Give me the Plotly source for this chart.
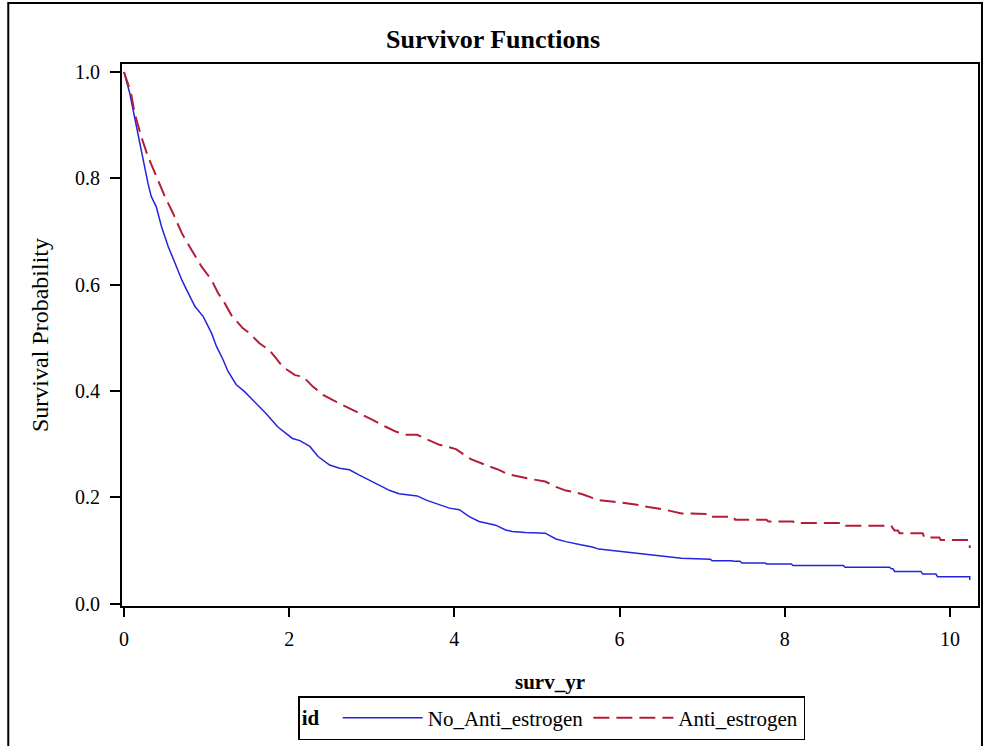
import plotly.graph_objects as go

# ---- data (Kaplan-Meier style survivor functions) ----
no_anti_t = [0, 0.07, 0.11, 0.15, 0.19, 0.25, 0.29, 0.33, 0.39, 0.455, 0.535, 0.62, 0.70, 0.76,
             0.86, 0.96, 1.06, 1.12, 1.20, 1.26, 1.36, 1.46, 1.58, 1.72, 1.86, 2.04, 2.13, 2.25,
             2.35, 2.49, 2.61, 2.73, 2.85, 2.95, 3.10, 3.22, 3.33, 3.55, 3.66, 3.82, 3.94, 4.06,
             4.18, 4.30, 4.50, 4.62, 4.70, 4.86, 5.10, 5.23, 5.35, 5.53, 5.67, 5.75, 5.93, 6.11,
             6.31, 6.51, 6.75, 7.10, 7.12, 7.36, 7.38, 7.46, 7.48, 7.76, 7.78, 8.08, 8.10, 8.71,
             8.73, 9.27, 9.29, 9.31, 9.33, 9.65, 9.67, 9.83, 9.85, 10.24, 10.24]
no_anti_s = [1.0, 0.96, 0.929, 0.897, 0.866, 0.816, 0.791, 0.766, 0.747, 0.709, 0.672, 0.640, 0.609,
             0.590, 0.559, 0.540, 0.509, 0.484, 0.459, 0.437, 0.412, 0.399, 0.380, 0.358, 0.333,
             0.311, 0.307, 0.296, 0.277, 0.261, 0.255, 0.252, 0.242, 0.234, 0.222, 0.213, 0.207,
             0.203, 0.195, 0.186, 0.180, 0.177, 0.164, 0.155, 0.148, 0.139, 0.136, 0.134, 0.133,
             0.122, 0.117, 0.111, 0.107, 0.103, 0.100, 0.097, 0.094, 0.090, 0.086, 0.084, 0.081,
             0.081, 0.080, 0.080, 0.077, 0.077, 0.075, 0.075, 0.072, 0.072, 0.069, 0.069, 0.066,
             0.066, 0.061, 0.061, 0.056, 0.056, 0.051, 0.051, 0.045]

anti_t = [0, 0.085, 0.13, 0.21, 0.29, 0.39, 0.495, 0.595, 0.70, 0.82, 0.94, 1.06, 1.14, 1.20, 1.30,
          1.44, 1.52, 1.64, 1.76, 1.84, 1.92, 2.07, 2.17, 2.29, 2.41, 2.53, 2.69, 2.85, 3.01, 3.17,
          3.29, 3.41, 3.55, 3.66, 3.82, 4.02, 4.14, 4.20, 4.38, 4.54, 4.64, 4.78, 4.88, 5.10, 5.23,
          5.35, 5.43, 5.55, 5.67, 5.75, 5.93, 6.19, 6.35, 6.55, 6.75, 7.00, 7.10, 7.12, 7.38, 7.40,
          7.78, 7.80, 8.10, 8.12, 8.72, 8.74, 9.29, 9.31, 9.33, 9.37, 9.39, 9.67, 9.69, 9.87, 9.89,
          10.24, 10.24]
anti_s = [1.0, 0.96, 0.922, 0.878, 0.841, 0.803, 0.766, 0.734, 0.697, 0.665, 0.634, 0.609, 0.584,
          0.571, 0.543, 0.518, 0.509, 0.490, 0.477, 0.462, 0.446, 0.430, 0.427, 0.408, 0.393, 0.383,
          0.371, 0.358, 0.346, 0.333, 0.324, 0.318, 0.318, 0.310, 0.299, 0.291, 0.278, 0.272, 0.261,
          0.252, 0.244, 0.239, 0.236, 0.230, 0.220, 0.213, 0.211, 0.206, 0.200, 0.195, 0.192, 0.187,
          0.182, 0.177, 0.170, 0.169, 0.169, 0.164, 0.164, 0.158, 0.158, 0.155, 0.155, 0.152, 0.152,
          0.147, 0.147, 0.142, 0.138, 0.138, 0.133, 0.133, 0.125, 0.125, 0.120, 0.120, 0.105]

x_ticks = [0, 2, 4, 6, 8, 10]
y_ticks = [0.0, 0.2, 0.4, 0.6, 0.8, 1.0]
y_tick_labels = ["0.0", "0.2", "0.4", "0.6", "0.8", "1.0"]

FONT = "Liberation Serif, Times New Roman, serif"

fig = go.Figure()
fig.add_trace(go.Scatter(x=no_anti_t, y=no_anti_s, mode="lines", name="No_Anti_estrogen",
                         line=dict(color="#2424DC", width=1.5)))
fig.add_trace(go.Scatter(x=anti_t, y=anti_s, mode="lines", name="Anti_estrogen",
                         line=dict(color="#B21E38", width=2, dash="16px,7px")))

W, H = 986, 746
L, R, T, B = 122, 6, 64, 140
pw, ph = W - L - R, H - T - B

def px_x(p):
    return (p - L) / pw

def px_y(p):
    return (H - B - p) / ph

fig.update_layout(
    width=W, height=H,
    margin=dict(l=L, r=R, t=T, b=B, pad=0),
    paper_bgcolor="white", plot_bgcolor="white",
    font=dict(family=FONT, size=21, color="black"),
    title=dict(text="<b>Survivor Functions</b>", x=0.5, xanchor="center", y=1 - 39 / H,
               yanchor="middle", font=dict(family=FONT, size=26, color="black")),
    xaxis=dict(range=[-0.024, 10.34], tickvals=x_ticks, ticks="outside", ticklen=9, tickwidth=2,
               tickcolor="black", showline=True, linecolor="black", linewidth=2, mirror=True,
               showgrid=False, zeroline=False, ticklabelstandoff=5,
               tickfont=dict(family=FONT, size=20),
               title=dict(text="<b>surv_yr</b>", font=dict(family=FONT, size=21), standoff=25)),
    yaxis=dict(range=[-0.004, 1.015], tickvals=y_ticks, ticktext=y_tick_labels, ticks="outside",
               ticklen=10, tickwidth=2, tickcolor="black", showline=True, linecolor="black",
               linewidth=2, mirror=True, showgrid=False, zeroline=False, ticklabelstandoff=6,
               tickfont=dict(family=FONT, size=20),
               title=dict(text="Survival Probability", font=dict(family=FONT, size=24), standoff=20)),
    legend=dict(orientation="h", x=0.502, xanchor="center", y=px_y(696), yanchor="top",
                bordercolor="black", borderwidth=1.5, bgcolor="white",
                title=dict(text="<b>id</b>  ", side="left", font=dict(family=FONT, size=21)),
                font=dict(family=FONT, size=21), itemwidth=80, tracegroupgap=0),
    showlegend=True,
)

# outer frame of the graphic
fig.add_shape(type="rect", xref="paper", yref="paper",
              x0=px_x(8), x1=px_x(984), y0=px_y(3), y1=px_y(760),
              line=dict(color="black", width=2), fillcolor="rgba(0,0,0,0)", layer="below")

fig.write_html("out.html", post_script="document.body.style.margin='0';",
               config={"displayModeBar": False})
